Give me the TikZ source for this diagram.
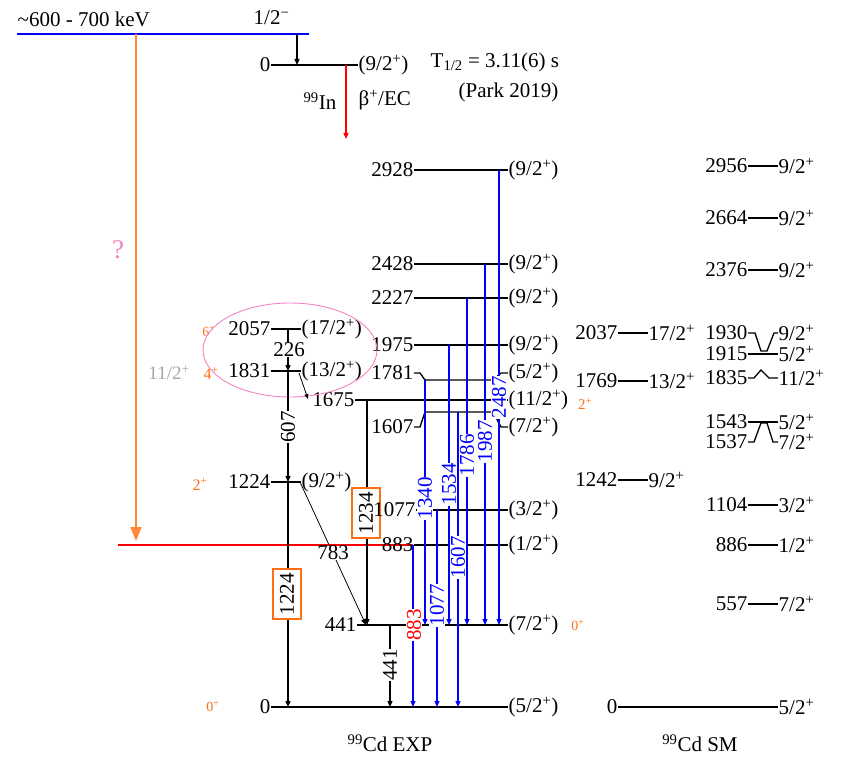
\documentclass[tikz,border=0pt]{standalone}
\usepackage{fontspec}
\setmainfont{Liberation Serif}
\usetikzlibrary{arrows.meta}
\definecolor{myorange}{RGB}{255,110,20}
\definecolor{arrorange}{RGB}{255,135,55}
\definecolor{mypink}{RGB}{245,130,195}
\definecolor{mygrey}{RGB}{165,165,165}
\newcommand{\sps}[1]{\textsuperscript{#1}}
\begin{document}
\begin{tikzpicture}[x=1pt,y=-1pt,
  every node/.style={font=\fontsize{21}{24}\selectfont, inner sep=0.5pt},
  lvl/.style={line width=1.3pt},
  gam/.style={line width=1.2pt,-{Triangle[length=6pt,width=5pt]}},
  bgam/.style={gam,blue},
  vlab/.style={rotate=90,fill=white,inner sep=0.5pt},
  obox/.style={rotate=90,fill=white,draw=myorange,line width=1.5pt,inner xsep=4pt,inner ysep=7pt,text depth=0pt},
  olab/.style={text=myorange,font=\fontsize{15}{17}\selectfont},
  lft/.style={anchor=east},
  rgt/.style={anchor=west}]
\useasboundingbox (0,0) rectangle (847,757);

% ---------- top: 99In ----------
\node[rgt] (kev) at (17,19) {\textasciitilde600 - 700 keV};
\node[rgt] (halfm) at (253,18) {1/2\sps{−}};
\coordinate (bl) at (17,34);
\coordinate (br) at (309,34);
\draw[blue,line width=2.8pt] (bl) -- (br);
\node[lft] (in0) at (271,65) {0};
\node[rgt] (in92) at (358,65) {(9/2\sps{+})};
\draw[lvl] (in0.east) -- (in92.west);
\coordinate (ta) at (297,34);
\coordinate (tb) at (297,65);
\draw[gam] (ta) -- (tb);
\coordinate (ra) at (346,65);
\coordinate (rb) at (346,139);
\draw[red,line width=1.2pt,-{Triangle[length=6pt,width=5pt]}] (ra) -- (rb);
\node[lft] (inlab) at (337,101) {\sps{99}In};
\node[rgt] (bec) at (358,100) {β\sps{+}/EC};
\node[rgt] (thalf) at (430,62) {T\textsubscript{1/2} = 3.11(6) s};
\node[rgt] (park) at (458,92) {(Park 2019)};

% orange arrow and ?
\coordinate (qa) at (136,34);
\coordinate (qb) at (136,541);
\draw[arrorange,line width=1.4pt,-{Triangle[length=14pt,width=11pt]}] (qa) -- (qb);
\node[text=mypink,font=\fontsize{27}{30}\selectfont] (qm) at (118,250) {?};

% red line
\coordinate (rl) at (118,545);
\coordinate (rr) at (413,545);
\draw[red,line width=1.2pt] (rl) -- (rr);

% ---------- EXP levels ----------
\foreach \n/\y/\s in {2928/170/9,2428/264/9,2227/298/9,1975/345/9,883/545/1}{
  \node[lft] (e\n) at (414,\y) {\n};
  \node[rgt] (s\n) at (508,\y) {(\s/2\sps{+})};
  \draw[lvl] (e\n.east) -- (s\n.west);
}
% 1781 kinked
\node[lft] (e1781) at (414,373) {1781};
\node[rgt] (s1781) at (508,373) {(5/2\sps{+})};
\draw[lvl] (e1781.east) -- ++(6,0) -- (425,380) -- (493,380) -- (501,373) -- (s1781.west);
% 1607 kinked
\node[lft] (e1607) at (414,427) {1607};
\node[rgt] (s1607) at (508,427) {(7/2\sps{+})};
\draw[lvl] (e1607.east) -- ++(6,0) -- (425,412) -- (493,412) -- (501,427) -- (s1607.west);
% 1675
\node[lft] (e1675) at (355,400) {1675};
\node[rgt] (s1675) at (508,400) {(11/2\sps{+})};
\draw[lvl] (e1675.east) -- (s1675.west);
\node[olab] (o2r) at (585,404) {2\sps{+}};
% 441
\node[lft] (e441) at (357,625) {441};
\node[rgt] (s441) at (508,625) {(7/2\sps{+})};
\draw[lvl] (e441.east) -- (s441.west);
\node[olab,font=\fontsize{14}{16}\selectfont] (o0r) at (578,625) {0\sps{+}};
% 0
\node[lft] (e0) at (271,707) {0};
\node[rgt] (s0) at (508,707) {(5/2\sps{+})};
\draw[lvl] (e0.east) -- (s0.west);
\node[olab,font=\fontsize{14}{16}\selectfont] (o0l) at (213,706) {0\sps{+}};
% band levels
\node[lft] (e2057) at (271,329) {2057};
\node[rgt] (s2057) at (301,329) {(17/2\sps{+})};
\draw[lvl] (e2057.east) -- (s2057.west);
\node[olab,font=\fontsize{14}{16}\selectfont] (o6) at (209,331) {6\sps{+}};
\node[lft] (e1831) at (271,371) {1831};
\node[rgt] (s1831) at (301,371) {(13/2\sps{+})};
\draw[lvl] (e1831.east) -- (s1831.west);
\node[olab,font=\fontsize{16}{18}\selectfont] (o4) at (211,373) {4\sps{+}};
\node[text=mygrey,font=\fontsize{19}{22}\selectfont] (g112) at (169,373) {11/2\sps{+}};
\node[lft] (e1224) at (271,482) {1224};
\node[rgt] (s1224) at (301,482) {(9/2\sps{+})};
\draw[lvl] (e1224.east) -- (s1224.west);
\node[olab,font=\fontsize{16}{18}\selectfont] (o2l) at (200,484) {2\sps{+}};

% ellipse
\coordinate (ellc) at (290,350);
\draw[mypink,line width=0.9pt] (ellc) ellipse [x radius=87, y radius=47];

% ---------- EXP black transitions ----------
\coordinate (k2057) at (288,329);
\coordinate (k1831) at (288,371);
\coordinate (k1224) at (288,482);
\coordinate (k0) at (288,707);
\draw[gam] (k2057) -- (k1831);
\draw[gam] (k1831) -- (k1224);
\draw[gam] (k1224) -- (k0);
\node[fill=white,inner sep=0pt] (l226) at (289,350) {226};
\node[vlab] (l607) at (288,427) {607};
\node[obox] (l1224) at (287,594) {1224};

\coordinate (k1675) at (367,400);
\coordinate (k441) at (367,625);
\draw[gam] (k1675) -- (k441);
\node[obox] (l1234) at (366,513) {1234};
% 1077 level (drawn after the box)
\node[lft] (e1077) at (416,510) {1077};
\node[rgt] (s1077) at (508,510) {(3/2\sps{+})};
\draw[lvl] (e1077.east) -- (s1077.west);

\coordinate (d1) at (300,482);
\coordinate (d2) at (366,625);
\draw[line width=0.8pt,-{Triangle[length=6pt,width=5pt]}] (d1) -- (d2);
\node[fill=white,inner sep=0pt] (l783) at (333,553) {783};

\coordinate (f1) at (299,373);
\coordinate (f2) at (308,399);
\draw[line width=0.8pt,-{Triangle[length=5pt,width=4pt]}] (f1) -- (f2);

\coordinate (g1) at (390,625);
\coordinate (g2) at (390,707);
\draw[gam] (g1) -- (g2);
\node[vlab] (l441) at (390,665) {441};

% ---------- EXP blue transitions ----------
\foreach \nm/\x/\ya/\yb/\ly in {2487/499/170/625/397,1987/485/264/625/441,1786/467/298/625/455,1534/449/345/625/484,1340/425/380/625/498,1607/458/412/707/557,1077/437/510/707/605}{
  \coordinate (bt\nm) at (\x,\ya);
  \coordinate (bb\nm) at (\x,\yb);
  \draw[bgam] (bt\nm) -- (bb\nm);
  \node[vlab,text=blue] (bl\nm) at (\x,\ly) {\nm};
}
\coordinate (bt883) at (413,545);
\coordinate (bb883) at (413,707);
\draw[bgam] (bt883) -- (bb883);
\node[vlab,text=red] (bl883) at (414,625) {883};

% ---------- SM ----------
\foreach \n/\y/\s in {2956/166/9,2664/218/9,2376/270/9,1104/505/3,886/545/1,557/604/7}{
  \node[lft] (m\n) at (748,\y) {\n};
  \node[rgt] (ms\n) at (778,\y) {\s/2\sps{+}};
  \draw[lvl] (m\n.east) -- (ms\n.west);
}
\foreach \n/\y/\s in {2037/333/17,1769/381/13,1242/480/9}{
  \node[lft] (m\n) at (618,\y) {\n};
  \node[rgt] (ms\n) at (648,\y) {\s/2\sps{+}};
  \draw[lvl] (m\n.east) -- (ms\n.west);
}
\node[lft] (m1930) at (748,333) {1930};
\node[rgt] (ms1930) at (778,333) {9/2\sps{+}};
\draw[lvl] (m1930.east) -- ++(7,0) -- (761,351) -- (767,351) -- (774,333) -- (ms1930.west);
\node[lft] (m1915) at (748,354) {1915};
\node[rgt] (ms1915) at (778,354) {5/2\sps{+}};
\draw[lvl] (m1915.east) -- (ms1915.west);
\node[lft] (m1835) at (748,378) {1835};
\node[rgt] (ms1835) at (778,378) {11/2\sps{+}};
\draw[lvl] (m1835.east) -- ++(6,0) -- (761,370) -- (769,378) -- (ms1835.west);
\node[lft] (m1543) at (748,422) {1543};
\node[rgt] (ms1543) at (778,422) {5/2\sps{+}};
\draw[lvl] (m1543.east) -- (ms1543.west);
\node[lft] (m1537) at (748,442) {1537};
\node[rgt] (ms1537) at (778,442) {7/2\sps{+}};
\draw[lvl] (m1537.east) -- ++(6,0) -- (761,423) -- (767,423) -- (773,442) -- (ms1537.west);
\node[lft] (m0) at (618,707) {0};
\node[rgt] (ms0) at (778,707) {5/2\sps{+}};
\draw[lvl] (m0.east) -- (ms0.west);

% titles
\node (tex) at (390,743) {\sps{99}Cd EXP};
\node (tsm) at (700,743) {\sps{99}Cd SM};
\end{tikzpicture}
\end{document}
